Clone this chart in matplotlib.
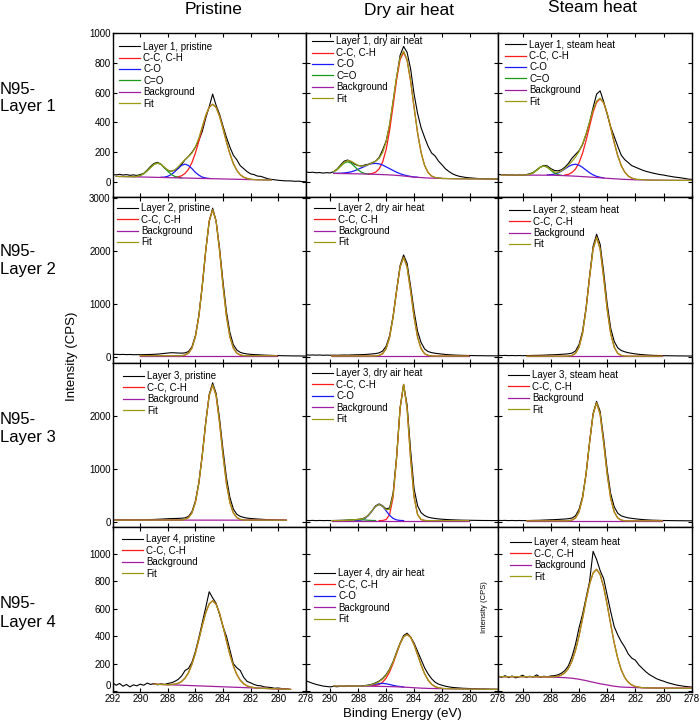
import matplotlib
matplotlib.use("Agg")
import matplotlib.pyplot as plt

plt.rcParams['font.family'] = ['Liberation Sans', 'DejaVu Sans']

# binding energy grid of the measured spectra (eV)
E_GRID = [292.0, 291.75, 291.5, 291.25, 291.0, 290.75, 290.5, 290.25, 290.0, 289.75,
          289.5, 289.25, 289.0, 288.75, 288.5, 288.25, 288.0, 287.75, 287.5, 287.25,
          287.0, 286.75, 286.5, 286.25, 286.0, 285.75, 285.5, 285.25, 285.0, 284.75,
          284.5, 284.25, 284.0, 283.75, 283.5, 283.25, 283.0, 282.75, 282.5, 282.25,
          282.0, 281.75, 281.5, 281.25, 281.0, 280.75, 280.5, 280.25, 280.0, 279.75,
          279.5, 279.25, 279.0, 278.75, 278.5, 278.25, 278.0]

# ---- measured spectra (CPS) on E_GRID ----
L1_pri_raw = [50, 48, 52, 47, 50, 45, 48, 44, 50, 58, 80, 105, 125, 132, 120, 95, 78, 72, 80, 90,
              118, 150, 172, 200, 235, 280, 340, 430, 505, 590, 515, 455, 375, 300, 235, 180, 150, 110, 90, 70,
              55, 50, 40, 38, 30, 22, 18, 15, 12, 10, 8, 8, 7, 5, 6, 3, 2]
L1_dry_raw = [66, 68, 64, 66, 62, 64, 60, 63, 61, 70, 88, 115, 140, 148, 135, 120, 110, 108, 115, 120,
              130, 140, 165, 215, 275, 380, 540, 700, 850, 910, 870, 760, 590, 460, 365, 300, 240, 195, 175, 140,
              115, 88, 70, 55, 45, 38, 34, 30, 28, 26, 24, 23, 22, 21, 21, 20, 20]
L1_stm_raw = [52, 52, 48, 50, 46, 48, 45, 47, 46, 50, 55, 64, 82, 100, 112, 108, 90, 78, 75, 82,
              100, 125, 160, 185, 210, 250, 320, 400, 500, 590, 612, 540, 455, 370, 305, 240, 180, 150, 130, 110,
              100, 90, 80, 72, 66, 60, 55, 50, 47, 42, 38, 34, 31, 28, 24, 20, 18]
L2_pri_raw = [45, 48, 44, 46, 42, 45, 40, 42, 40, 42, 44, 45, 48, 52, 58, 65, 72, 78, 76, 72,
              70, 75, 100, 190, 400, 780, 1350, 2000, 2550, 2800, 2560, 2050, 1420, 850, 460, 230, 130, 85, 65, 55,
              48, 42, 40, 36, 33, 30, 28, 25, 24, 22, 20, 20, 18, 18, 17, 16, 15]
L2_dry_raw = [35, 38, 33, 36, 32, 35, 30, 33, 30, 32, 30, 33, 35, 33, 36, 38, 40, 42, 45, 50,
              55, 62, 75, 110, 200, 400, 770, 1250, 1720, 1920, 1760, 1330, 860, 480, 270, 150, 100, 80, 68, 60,
              52, 45, 40, 36, 32, 30, 28, 26, 25, 24, 22, 22, 21, 20, 20, 19, 19]
L2_stm_raw = [25, 28, 24, 27, 23, 26, 22, 25, 22, 24, 25, 27, 28, 30, 32, 35, 38, 40, 44, 48,
              52, 58, 70, 110, 230, 480, 920, 1520, 2080, 2310, 2120, 1600, 1000, 540, 290, 170, 120, 95, 78, 66,
              56, 48, 42, 36, 32, 28, 26, 24, 22, 21, 20, 19, 18, 18, 17, 16, 16]
L3_pri_raw = [35, 33, 36, 32, 35, 31, 34, 32, 35, 36, 38, 40, 42, 45, 48, 52, 55, 58, 60, 62,
              65, 72, 100, 190, 390, 740, 1270, 1880, 2400, 2620, 2420, 1950, 1360, 830, 460, 240, 140, 100, 80, 68,
              60, 55, 50, 46, 42, 38, 35, 32, 30, 28, 26]
L3_dry_raw = [22, 25, 20, 24, 19, 23, 20, 22, 21, 22, 24, 25, 27, 30, 34, 38, 44, 52, 75, 130,
              210, 300, 335, 300, 240, 260, 540, 1230, 2150, 2590, 2200, 1350, 620, 300, 170, 115, 85, 70, 60, 52,
              46, 42, 38, 35, 32, 30, 28, 27, 26, 25, 24, 23, 22, 22, 21, 21, 20]
L3_stm_raw = [22, 25, 21, 24, 20, 23, 19, 22, 20, 21, 22, 24, 25, 27, 30, 33, 36, 38, 42, 46,
              50, 56, 68, 110, 230, 470, 900, 1500, 2040, 2270, 2080, 1570, 980, 530, 280, 160, 110, 88, 72, 62,
              54, 46, 40, 35, 31, 28, 26, 24, 22, 21, 20, 19, 18, 18, 17, 16, 16]
L4_pri_raw = [60, 42, 55, 35, 48, 30, 45, 38, 50, 42, 58, 48, 55, 45, 52, 48, 55, 60, 70, 85,
              110, 150, 165, 210, 290, 390, 500, 610, 725, 680, 640, 560, 470, 400, 300, 200, 170, 150, 100, 70,
              60, 48, 40, 38, 30, 28, 25, 20, 22, 18, 16, 14]
L4_dry_raw = [78, 75, 66, 56, 48, 42, 36, 33, 30, 34, 31, 36, 33, 38, 35, 37, 34, 38, 40, 44,
              50, 60, 72, 92, 120, 160, 215, 285, 350, 405, 422, 395, 350, 290, 230, 170, 125, 90, 65, 50,
              42, 35, 30, 26, 24, 22, 20, 19, 18, 17, 16, 15, 15, 14, 13, 13, 12]
L4_stm_raw = [112, 108, 100, 112, 98, 110, 96, 104, 115, 100, 108, 102, 118, 100, 108, 104, 110, 112, 118, 130,
              150, 185, 250, 340, 460, 560, 680, 800, 1020, 960, 880, 820, 700, 580, 470, 410, 360, 320, 270, 240,
              225, 190, 165, 140, 120, 105, 90, 80, 72, 62, 55, 48, 42, 38, 34, 31, 29]

# ---- fitted curves, (eV, CPS) ----
L1_pri_bg = [(291.75, 38), (280.5, 13)]
L1_pri_cc = [(287.5, 32), (287.25, 35), (287.0, 42), (286.75, 58), (286.5, 86), (286.25, 131), (286.0, 195),
             (285.75, 275), (285.5, 363), (285.25, 445), (285.0, 502), (284.75, 522), (284.5, 501), (284.25, 442),
             (284.0, 360), (283.75, 270), (283.5, 190), (283.25, 124), (283.0, 79), (282.75, 49), (282.5, 32),
             (282.25, 24), (282.0, 19)]
L1_pri_co = [(288.5, 32), (288.25, 33), (288.0, 39), (287.75, 50), (287.5, 69), (287.25, 92), (287.0, 112),
             (286.75, 120), (286.5, 111), (286.25, 90), (286.0, 65), (285.75, 46), (285.5, 33), (285.25, 27),
             (285.0, 24)]
L1_pri_ceo = [(290.5, 36), (290.25, 38), (290.0, 43), (289.75, 56), (289.5, 75), (289.25, 98), (289.0, 119),
              (288.75, 127), (288.5, 118), (288.25, 96), (288.0, 72), (287.75, 51), (287.5, 38), (287.25, 31),
              (287.0, 28)]
L1_pri_fit = [(291.75, 38), (291.0, 36), (290.5, 36), (290.25, 38), (290.0, 43), (289.75, 56), (289.5, 75),
              (289.25, 98), (289.0, 119), (288.75, 127), (288.5, 119), (288.25, 99), (288.0, 81), (287.75, 72),
              (287.5, 81), (287.25, 102), (287.0, 128), (286.75, 151), (286.5, 171), (286.25, 195), (286.0, 235),
              (285.75, 296), (285.5, 372), (285.25, 448), (285.0, 503), (284.75, 522), (284.5, 501), (284.25, 442),
              (284.0, 360), (283.75, 270), (283.5, 190), (283.25, 124), (283.0, 79), (282.75, 49), (282.5, 32),
              (282.25, 24), (282.0, 19), (281.5, 15), (280.5, 13)]

L1_dry_bg = [(289.75, 58), (288.0, 55), (287.0, 52.5), (286.0, 49), (285.5, 46.5), (285.0, 43), (284.5, 38),
             (284.0, 33), (283.5, 30), (283.0, 27), (282.0, 24), (281.0, 22), (280.0, 21), (278.0, 20)]
L1_dry_cc = [(287.25, 53), (287.0, 57.5), (286.75, 66), (286.5, 88), (286.25, 134), (286.0, 217), (285.75, 347),
             (285.5, 513), (285.25, 688), (285.0, 822), (284.75, 870), (284.5, 817), (284.25, 678), (284.0, 500),
             (283.75, 330), (283.5, 198), (283.25, 112), (283.0, 64), (282.75, 40), (282.5, 30), (282.0, 24)]
L1_dry_co = [(289.75, 58.5), (289.5, 58.6), (289.25, 59.3), (289.0, 61), (288.75, 64), (288.5, 68.5), (288.25, 76),
             (288.0, 86), (287.75, 96), (287.5, 106.5), (287.25, 117), (287.0, 123.5), (286.75, 125), (286.5, 122),
             (286.25, 114), (286.0, 102), (285.75, 90), (285.5, 77.5), (285.25, 66), (285.0, 56), (284.75, 48.5),
             (284.5, 42.4), (284.25, 37.8), (284.0, 34), (283.75, 32)]
L1_dry_ceo = [(289.75, 69), (289.5, 83.5), (289.25, 106), (289.0, 127.5), (288.75, 136), (288.5, 126.5),
              (288.25, 104), (288.0, 81), (287.75, 65), (287.5, 57), (287.25, 54)]
L1_dry_fit = [(289.75, 69.5), (289.5, 84.6), (289.25, 108.3), (289.0, 131.9), (288.75, 144), (288.5, 139.5),
              (288.25, 125.2), (288.0, 112), (287.75, 107), (287.5, 110), (287.25, 118), (287.0, 128.5),
              (286.75, 139), (286.5, 159), (286.25, 198), (286.0, 270), (285.75, 389), (285.5, 544.5),
              (285.25, 709), (285.0, 835), (284.75, 878.5), (284.5, 821), (284.25, 681), (284.0, 501),
              (283.75, 331), (283.5, 198), (283.25, 112.5), (283.0, 64), (282.75, 40), (282.5, 30.5), (282.0, 24),
              (281.0, 22), (280.0, 21), (278.0, 20)]

L1_stm_bg = [(291.5, 47), (288.0, 46), (287.0, 43), (286.0, 38), (285.0, 32), (284.0, 25), (283.0, 19),
             (282.0, 15), (280.0, 12), (278.0, 11)]
L1_stm_cc = [(287.0, 47), (286.75, 52), (286.5, 63.5), (286.25, 87.5), (286.0, 129), (285.75, 192.5), (285.5, 278),
             (285.25, 374.5), (285.0, 468), (284.75, 535), (284.5, 558.5), (284.25, 531.5), (284.0, 461),
             (283.75, 364.5), (283.5, 265), (283.25, 176.5), (283.0, 110), (282.75, 66), (282.5, 40),
             (282.25, 26), (282.0, 19)]
L1_stm_co = [(288.25, 47.4), (288.0, 49.5), (287.75, 53), (287.5, 60.5), (287.25, 73), (287.0, 88), (286.75, 104),
             (286.5, 115.5), (286.25, 119.5), (286.0, 113), (285.75, 98.5), (285.5, 80), (285.25, 62.5),
             (285.0, 48), (284.75, 38), (284.5, 32), (284.25, 28)]
L1_stm_ceo = [(289.75, 48), (289.5, 51.5), (289.25, 61.5), (289.0, 79.5), (288.75, 99.5), (288.5, 108),
              (288.25, 99), (288.0, 79), (287.75, 60), (287.5, 49.5), (287.25, 45)]
L1_stm_fit = [(291.5, 47), (290.0, 47), (289.75, 48), (289.5, 51.5), (289.25, 61.5), (289.0, 79.5), (288.75, 99.5),
              (288.5, 108), (288.25, 100.4), (288.0, 82.5), (287.75, 68), (287.5, 65.5), (287.25, 74.3),
              (287.0, 92), (286.75, 114), (286.5, 138.5), (286.25, 167.5), (286.0, 204), (285.75, 254.5),
              (285.5, 323), (285.25, 403.5), (285.0, 484), (284.75, 543), (284.5, 562), (284.25, 533),
              (284.0, 461), (283.75, 364.5), (283.5, 265), (283.25, 176.5), (283.0, 110), (282.75, 66),
              (282.5, 40), (282.25, 26), (282.0, 19), (281.0, 13), (280.0, 12), (278.0, 11)]

L2_pri_bg = [(290.0, 20), (280.1, 20)]
L2_pri_fit = [(290.0, 20), (287.0, 21), (286.75, 35), (286.5, 71), (286.25, 167), (286.0, 380), (285.75, 768),
              (285.5, 1343), (285.25, 2006), (285.0, 2556), (284.75, 2770), (284.5, 2556), (284.25, 2006),
              (284.0, 1343), (283.75, 768), (283.5, 380), (283.25, 167), (283.0, 71), (282.75, 35), (282.5, 21),
              (280.1, 20)]
L2_dry_bg = [(289.9, 15), (280.1, 15)]
L2_dry_fit = [(289.9, 15), (287.0, 15), (286.75, 17), (286.5, 27), (286.25, 60), (286.0, 156), (285.75, 370),
              (285.5, 750), (285.25, 1246), (285.0, 1693), (284.75, 1875), (284.5, 1693), (284.25, 1246),
              (284.0, 750), (283.75, 370), (283.5, 156), (283.25, 60), (283.0, 27), (282.75, 17), (282.5, 15),
              (280.1, 15)]
L2_stm_bg = [(289.7, 12), (280.1, 12)]
L2_stm_fit = [(289.7, 12), (287.0, 12), (286.75, 14), (286.5, 26), (286.25, 66), (286.0, 181), (285.75, 440),
              (285.5, 897), (285.25, 1495), (285.0, 2032), (284.75, 2252), (284.5, 2032), (284.25, 1495),
              (284.0, 897), (283.75, 440), (283.5, 181), (283.25, 66), (283.0, 26), (282.75, 14), (282.5, 12),
              (280.1, 12)]

L3_pri_bg = [(292.0, 30), (279.4, 28)]
L3_pri_fit = [(292.0, 30), (287.0, 31), (286.75, 44), (286.5, 77), (286.25, 166), (286.0, 364), (285.75, 724),
              (285.5, 1257), (285.25, 1871), (285.0, 2381), (284.75, 2580), (284.5, 2381), (284.25, 1871),
              (284.0, 1257), (283.75, 724), (283.5, 364), (283.25, 166), (283.0, 77), (282.75, 44), (282.5, 30),
              (279.4, 28)]
L3_dry_bg = [(289.9, 20), (280.1, 20)]
L3_dry_cc = [(286.5, 20), (286.25, 22), (286.0, 40), (285.75, 133), (285.5, 462), (285.25, 1197), (285.0, 2135),
             (284.75, 2590), (284.5, 2135), (284.25, 1197), (284.0, 462), (283.75, 133), (283.5, 40), (283.25, 22),
             (283.0, 20)]
L3_dry_co = [(288.25, 20), (288.0, 23), (287.75, 33), (287.5, 61), (287.25, 119), (287.0, 205), (286.75, 289),
             (286.5, 325), (286.25, 289), (286.0, 205), (285.75, 119), (285.5, 61), (285.25, 33), (285.0, 23),
             (284.75, 20)]
L3_dry_ceo = [(289.25, 21), (289.0, 22), (288.75, 26), (288.5, 31), (288.25, 36), (288.0, 38), (287.75, 36),
              (287.5, 31), (287.25, 26), (287.0, 22), (286.75, 21)]
L3_dry_fit = [(289.9, 20), (289.5, 20), (289.25, 21), (289.0, 22), (288.75, 26), (288.5, 31), (288.25, 36),
              (288.0, 41), (287.75, 49), (287.5, 72), (287.25, 125), (287.0, 207), (286.75, 290), (286.5, 325),
              (286.25, 291), (286.0, 225), (285.75, 232), (285.5, 503), (285.25, 1210), (285.0, 2138),
              (284.75, 2590), (284.5, 2135), (284.25, 1197), (284.0, 462), (283.75, 133), (283.5, 40),
              (283.25, 22), (283.0, 20), (280.1, 20)]
L3_stm_bg = [(289.7, 15), (280.1, 15)]
L3_stm_fit = [(289.7, 15), (287.0, 15), (286.75, 17), (286.5, 29), (286.25, 69), (286.0, 184), (285.75, 441),
              (285.5, 896), (285.25, 1491), (285.0, 2026), (284.75, 2245), (284.5, 2026), (284.25, 1491),
              (284.0, 896), (283.75, 441), (283.5, 184), (283.25, 69), (283.0, 29), (282.75, 17), (282.5, 15),
              (280.1, 15)]

L4_pri_bg = [(289.0, 50), (279.1, 12)]
L4_pri_fit = [(289.0, 50), (288.0, 46), (287.75, 48), (287.5, 50), (287.25, 56), (287.0, 70), (286.75, 94),
              (286.5, 134), (286.25, 196), (286.0, 277), (285.75, 376), (285.5, 479), (285.25, 572), (285.0, 636),
              (284.75, 659), (284.5, 634), (284.25, 568), (284.0, 473), (283.75, 368), (283.5, 267), (283.25, 184),
              (283.0, 121), (282.75, 79), (282.5, 53), (282.25, 37), (282.0, 29), (281.75, 25), (281.5, 21),
              (279.1, 12)]
L4_dry_bg = [(289.75, 37), (288.0, 36), (287.0, 35), (286.0, 33), (285.0, 30), (284.5, 27), (284.0, 24),
             (283.5, 21), (283.0, 19), (282.0, 17), (281.0, 15), (280.0, 14), (278.0, 12)]
L4_dry_cc = [(287.0, 37.3), (286.75, 40.5), (286.5, 48), (286.25, 64.5), (286.0, 94), (285.75, 139.2),
             (285.5, 201.5), (285.25, 273.7), (285.0, 344), (284.75, 395.5), (284.5, 413), (284.25, 392.5),
             (284.0, 338), (283.75, 265.5), (283.5, 191), (283.25, 127), (283.0, 80), (282.75, 49.5), (282.5, 32),
             (282.25, 23.5), (282.0, 19.3)]
L4_dry_co = [(287.75, 36.7), (287.5, 38), (287.25, 40.7), (287.0, 45), (286.75, 50), (286.5, 54), (286.25, 55.5),
             (286.0, 53), (285.75, 47.7), (285.5, 41.5), (285.25, 36.2), (285.0, 32.5), (284.75, 29.5)]
L4_dry_fit = [(289.75, 37), (289.0, 36.5), (288.0, 36), (287.75, 36.7), (287.5, 38), (287.25, 40.7), (287.0, 47.3),
              (286.75, 56), (286.5, 68), (286.25, 86.5), (286.0, 114), (285.75, 154.7), (285.5, 211.5),
              (285.25, 279.2), (285.0, 346.5), (284.75, 396.5), (284.5, 413), (284.25, 392.5), (284.0, 338),
              (283.75, 265.5), (283.5, 191), (283.25, 127), (283.0, 80), (282.75, 49.5), (282.5, 32),
              (282.25, 23.5), (282.0, 19.3), (281.0, 15), (280.0, 14), (278.0, 12)]
L4_stm_bg = [(291.6, 105), (289.5, 105), (288.5, 103.5), (287.5, 100), (287.0, 97.5), (286.5, 93.5), (286.0, 86),
             (285.5, 76), (285.0, 64), (284.5, 53), (284.0, 44), (283.5, 35), (283.0, 29), (282.0, 25),
             (281.0, 23), (280.0, 21), (278.0, 20)]
L4_stm_fit = [(291.6, 105), (289.5, 105), (288.5, 103.5), (288.0, 102.5), (287.75, 104.7), (287.5, 107.8),
              (287.25, 116.5), (287.0, 134), (286.75, 165.5), (286.5, 218.5), (286.25, 297), (286.0, 402),
              (285.75, 529), (285.5, 663), (285.25, 781), (285.0, 862), (284.75, 888.5), (284.5, 851),
              (284.25, 759.5), (284.0, 631), (283.75, 487.5), (283.5, 351), (283.25, 239), (283.0, 154),
              (282.75, 98), (282.5, 63.5), (282.25, 43.5), (282.0, 32.8), (281.75, 27.7), (281.5, 24), (281.0, 23),
              (280.0, 21), (279.0, 20.5), (278.0, 20)]

COL_TITLES = ['Pristine', 'Dry air heat', 'Steam heat']
ROW_TITLES = ['N95-\nLayer 1', 'N95-\nLayer 2', 'N95-\nLayer 3', 'N95-\nLayer 4']
COND = ['pristine', 'dry air heat', 'steam heat']

C_DATA, C_CC, C_CO, C_CEO, C_BG, C_FIT = 'black', '#ff1a1a', '#1a1aff', '#1a9a1a', '#a01ea0', '#9a9a14'

# panel contents: raw, C-C, C-O, C=O, background, fit  (None = not drawn)
panels = [
    [(L1_pri_raw, L1_pri_cc, L1_pri_co, L1_pri_ceo, L1_pri_bg, L1_pri_fit),
     (L1_dry_raw, L1_dry_cc, L1_dry_co, L1_dry_ceo, L1_dry_bg, L1_dry_fit),
     (L1_stm_raw, L1_stm_cc, L1_stm_co, L1_stm_ceo, L1_stm_bg, L1_stm_fit)],
    [(L2_pri_raw, L2_pri_fit, None, None, L2_pri_bg, L2_pri_fit),
     (L2_dry_raw, L2_dry_fit, None, None, L2_dry_bg, L2_dry_fit),
     (L2_stm_raw, L2_stm_fit, None, None, L2_stm_bg, L2_stm_fit)],
    [(L3_pri_raw, L3_pri_fit, None, None, L3_pri_bg, L3_pri_fit),
     (L3_dry_raw, L3_dry_cc, L3_dry_co, L3_dry_ceo, L3_dry_bg, L3_dry_fit),
     (L3_stm_raw, L3_stm_fit, None, None, L3_stm_bg, L3_stm_fit)],
    [(L4_pri_raw, L4_pri_fit, None, None, L4_pri_bg, L4_pri_fit),
     (L4_dry_raw, L4_dry_cc, L4_dry_co, None, L4_dry_bg, L4_dry_fit),
     (L4_stm_raw, L4_stm_fit, None, None, L4_stm_bg, L4_stm_fit)],
]
# which entries appear in each legend (row 3 dry air has an unlabelled C=O trace)
ceo_in_legend = [[True, True, True], [False] * 3, [False] * 3, [False] * 3]

# legend offset of first entry (px from panel left, px from panel top)
leg_off = [[(6, 14), (6, 9), (7, 12)],
           [(4, 12), (8, 12), (11, 14)],
           [(10, 14), (6, 11), (10, 13)],
           [(9, 13), (8, 47), (12, 16)]]

W, H = 700, 724
col_px = [(112.7, 305.7), (305.7, 498.0), (498.0, 691.7)]
row_px = [(33.0, 196.5), (196.5, 362.7), (362.7, 526.7), (526.7, 691.7)]
ylims = [(-97, 1000), (-110, 3020), (-95, 3000), (-5, 1200)]
yticks = [[0, 200, 400, 600, 800, 1000], [0, 1000, 2000, 3000], [0, 1000, 2000],
          [0, 200, 400, 600, 800, 1000]]

fig = plt.figure(figsize=(W / 100, H / 100), dpi=100)

def unzip(pairs):
    return [p[0] for p in pairs], [p[1] for p in pairs]

for r in range(4):
    for c in range(3):
        x0, x1 = col_px[c]
        y0, y1 = row_px[r]
        ax = fig.add_axes([x0 / W, 1 - y1 / H, (x1 - x0) / W, (y1 - y0) / H])
        raw, cc, co, ceo, bg, fit = panels[r][c]
        lw = 0.9
        handles = []
        h, = ax.plot(E_GRID[:len(raw)], raw, color=C_DATA, lw=0.8,
                     label='Layer %d, %s' % (r + 1, COND[c]))
        handles.append(h)
        h, = ax.plot(*unzip(cc), color=C_CC, lw=lw, label='C-C, C-H')
        handles.append(h)
        if co is not None:
            h, = ax.plot(*unzip(co), color=C_CO, lw=lw, label='C-O')
            handles.append(h)
        if ceo is not None:
            h, = ax.plot(*unzip(ceo), color=C_CEO, lw=lw, label='C=O')
            if ceo_in_legend[r][c]:
                handles.append(h)
        h, = ax.plot(*unzip(bg), color=C_BG, lw=lw, label='Background')
        handles.append(h)
        h, = ax.plot(*unzip(fit), color=C_FIT, lw=lw, label='Fit')
        handles.append(h)

        ax.set_xlim(292 if c == 0 else 291.75, 278)
        ax.set_xticks([292, 290, 288, 286, 284, 282, 280, 278] if c == 0 else
                      [290, 288, 286, 284, 282, 280, 278])
        ax.set_ylim(*ylims[r])
        ax.set_yticks(yticks[r])
        ax.tick_params(direction='in', top=True, right=True, length=3, width=0.8,
                       labelsize=7, pad=1.5)
        if c > 0:
            ax.set_yticklabels([])
        if r < 3:
            ax.set_xticklabels([])
        if r == 3 and c == 0:
            # bottom "0" sits on the x axis; lift it clear of the x tick labels
            ax.get_yticklabels()[0].set_va('bottom')
        for s in ax.spines.values():
            s.set_linewidth(1.0)

        dx, dy = leg_off[r][c]
        ax.legend(handles=handles, loc='upper left', frameon=False, fontsize=7,
                  bbox_to_anchor=(dx / (x1 - x0), 1 - (dy - 5.5) / (y1 - y0)),
                  borderpad=0, borderaxespad=0, handlelength=2.2, handletextpad=0.3,
                  labelspacing=0.15)

title_pos = [(214, 9), (409, 11), (592, 8)]
for t, (tx, ty) in zip(COL_TITLES, title_pos):
    fig.text(tx / W, 1 - ty / H, t, ha='center', va='center', fontsize=12.5)

row_y = [98, 260, 428, 613]
for t, ry in zip(ROW_TITLES, row_y):
    fig.text(0.0, 1 - ry / H, t, ha='left', va='center', fontsize=12, linespacing=1.25)

fig.text(72.5 / W, 1 - 356 / H, 'Intensity (CPS)', rotation=90, ha='center', va='center', fontsize=9.5)
fig.text(402 / W, 1 - 714 / H, 'Binding Energy (eV)', ha='center', va='center', fontsize=9.5)
fig.text(485 / W, 1 - 607 / H, 'Intensity (CPS)', rotation=90, ha='center', va='center', fontsize=5.5)

fig.savefig('out.png', dpi=100)
